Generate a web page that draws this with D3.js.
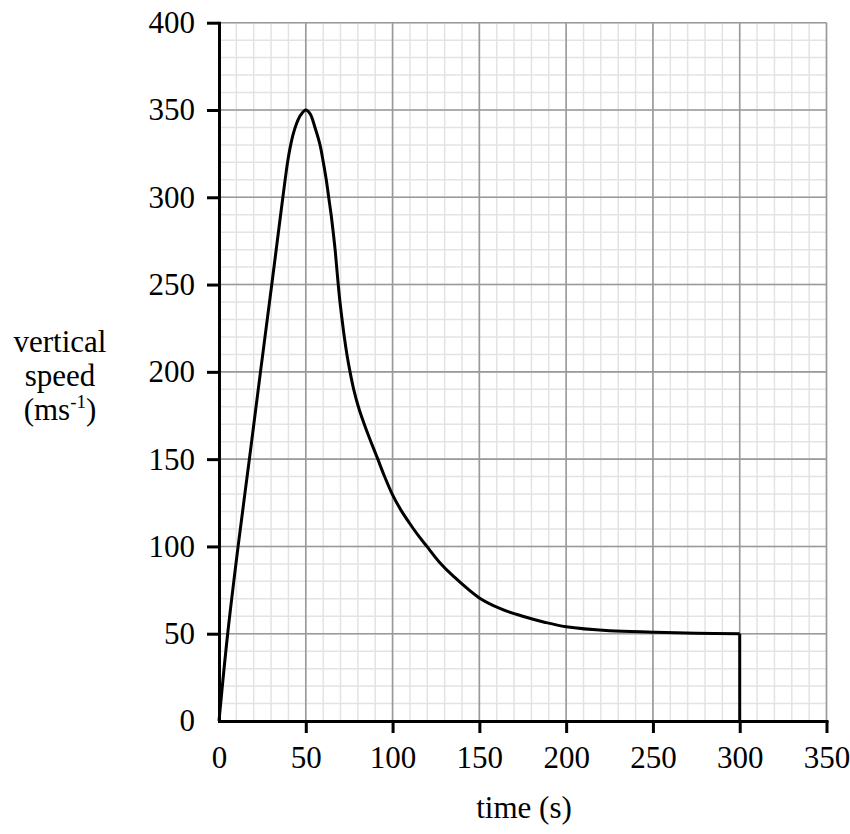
<!DOCTYPE html>
<html>
<head>
<meta charset="utf-8">
<script src="https://cdn.jsdelivr.net/npm/d3@7"></script>
<style>
  body { margin: 0; background: #fff; }
  text { font-family: "Liberation Serif", "Times New Roman", serif; fill: #000; }
</style>
</head>
<body>
<script>

// Values
var timeValues  = [0, 5, 11, 17.5, 23.9, 30.4, 35.5, 36.8, 38.1, 39.5, 40.9, 42.7, 44.6, 47, 50, 52.5, 55.3, 58.2, 60.1, 61.8, 63.2, 64.6, 65.8, 66.9, 67.8, 68.7, 69.7, 70.9, 72.2, 73.7, 75.5, 77.6, 80.3, 83.7, 87.5, 91.5, 95, 100, 105, 110, 115, 119.8, 127, 135, 150, 162.5, 175, 187.5, 200, 225, 250, 275, 300];
var speedValues = [0, 50, 100, 150, 200, 250, 290, 300, 310, 320, 328, 336, 342, 347, 350, 347.8, 340, 330, 320, 310, 300, 290, 280, 270, 260, 250, 240, 230, 220, 210, 200, 190, 180, 170, 160, 150, 141, 129.5, 120.5, 113, 106, 100, 91, 83, 70.5, 64.2, 60, 56.6, 54, 51.7, 50.9, 50.3, 50];
var xTicks = [0, 50, 100, 150, 200, 250, 300, 350];
var yTicks = [0, 50, 100, 150, 200, 250, 300, 350, 400];

drawChart();

function drawChart(){

  var w = 850;
  var h = 834;

  var svg = d3.select("body")
              .append("svg")
              .attr("width", w)
              .attr("height", h);

  // Scales
  var xScale = d3.scaleLinear()
                 .domain([0, 350])
                 .range([219, 826.5]);

  var yScale = d3.scaleLinear()
                 .domain([0, 400])
                 .range([721, 22.7]);

  // Minor grid every 10
  var minorX = d3.range(0, 351, 10);
  var minorY = d3.range(0, 401, 10);

  var grid = svg.append("g");

  grid.selectAll(".minorX")
      .data(minorX)
      .enter()
      .append("line")
      .attr("x1", d => xScale(d))
      .attr("x2", d => xScale(d))
      .attr("y1", yScale(0))
      .attr("y2", yScale(400))
      .attr("stroke", "#e3e3e3")
      .attr("stroke-width", 1.5);

  grid.selectAll(".minorY")
      .data(minorY)
      .enter()
      .append("line")
      .attr("x1", xScale(0))
      .attr("x2", xScale(350))
      .attr("y1", d => yScale(d))
      .attr("y2", d => yScale(d))
      .attr("stroke", "#e3e3e3")
      .attr("stroke-width", 1.5);

  // Major grid every 50
  grid.selectAll(".majorX")
      .data(xTicks)
      .enter()
      .append("line")
      .attr("x1", d => xScale(d))
      .attr("x2", d => xScale(d))
      .attr("y1", yScale(0))
      .attr("y2", yScale(400))
      .attr("stroke", "#999")
      .attr("stroke-width", 1.6);

  grid.selectAll(".majorY")
      .data(yTicks)
      .enter()
      .append("line")
      .attr("x1", xScale(0))
      .attr("x2", xScale(350))
      .attr("y1", d => yScale(d))
      .attr("y2", d => yScale(d))
      .attr("stroke", "#999")
      .attr("stroke-width", 1.6);

  // Axes
  var xAxis = svg.append("g")
    .attr("transform", `translate(0, ${yScale(0)})`)
    .call(d3.axisBottom(xScale)
            .tickValues(xTicks)
            .tickSize(12)
            .tickSizeOuter(0)
            .tickPadding(13));

  var yAxis = svg.append("g")
    .attr("transform", `translate(${xScale(0)}, 0)`)
    .call(d3.axisLeft(yScale)
            .tickValues(yTicks)
            .tickSize(12)
            .tickSizeOuter(0)
            .tickPadding(12));

  [xAxis, yAxis].forEach(function(a){
    a.select(".domain")
     .attr("stroke", "#000")
     .attr("stroke-width", 3)
     .attr("stroke-linecap", "square");
    a.selectAll(".tick line")
     .attr("stroke", "#000")
     .attr("stroke-width", 3);
    // no tick mark at zero
    a.selectAll(".tick")
     .filter(d => d === 0)
     .select("line")
     .remove();
    a.selectAll(".tick text")
     .attr("font-family", "Liberation Serif, Times New Roman, serif")
     .attr("font-size", 31)
     .attr("fill", "#000");
  });

  // The speed curve
  var points = timeValues.map((t, i) => [t, speedValues[i]]);

  var line = d3.line()
               .x(d => xScale(d[0]))
               .y(d => yScale(d[1]))
               .curve(d3.curveCatmullRom.alpha(0.5));

  svg.append("path")
     .datum(points)
     .attr("d", line)
     .attr("fill", "none")
     .attr("stroke", "#000")
     .attr("stroke-width", 3)
     .attr("stroke-linejoin", "round");

  // drop at the end
  var last = points[points.length - 1];
  svg.append("line")
     .attr("x1", xScale(last[0]))
     .attr("x2", xScale(last[0]))
     .attr("y1", yScale(last[1]))
     .attr("y2", yScale(0))
     .attr("stroke", "#000")
     .attr("stroke-width", 3);

  // Axis titles
  svg.append("text")
     .attr("x", 524)
     .attr("y", 818)
     .attr("text-anchor", "middle")
     .attr("font-size", 31)
     .text("time (s)");

  var yTitle = svg.append("text")
     .attr("text-anchor", "middle")
     .attr("font-size", 31);

  yTitle.append("tspan")
        .attr("x", 60)
        .attr("y", 352)
        .text("vertical");

  yTitle.append("tspan")
        .attr("x", 60)
        .attr("y", 386)
        .text("speed");

  var unit = svg.append("text")
     .attr("x", 60)
     .attr("y", 420)
     .attr("text-anchor", "middle")
     .attr("font-size", 31);

  unit.append("tspan").text("(ms");
  unit.append("tspan")
      .attr("font-size", 19)
      .attr("dy", -12)
      .text("-1");
  unit.append("tspan")
      .attr("dy", 12)
      .text(")");
};

</script>
</body>
</html>
